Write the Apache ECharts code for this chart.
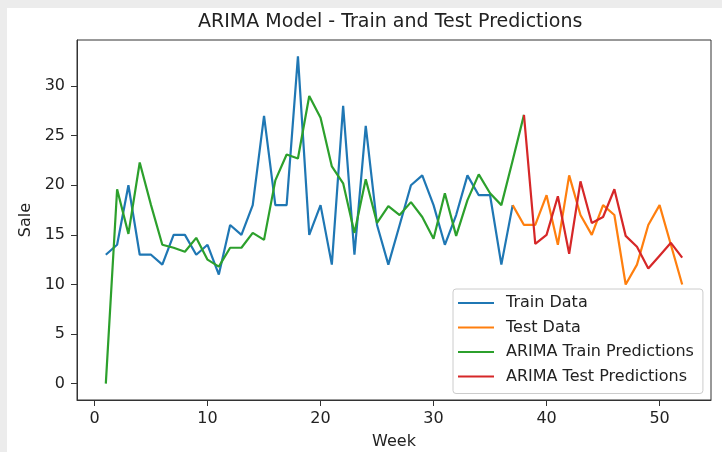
<!DOCTYPE html>
<html>
<head>
<meta charset="utf-8">
<script src="https://cdn.jsdelivr.net/npm/echarts@6/dist/echarts.min.js"></script>
<style>
html,body{margin:0;padding:0;background:#ececec;}
#paper{position:absolute;left:7px;top:8px;width:715px;height:444px;background:#ffffff;}
#c{position:absolute;left:0;top:0;width:722px;height:452px;}
</style>
</head>
<body>
<div id="paper"></div>
<div id="c"></div>
<script>
// ---- data ----
const chartTitle = 'ARIMA Model - Train and Test Predictions';
const xAxisName = 'Week';
const yAxisName = 'Sale';
const xTicks = [0, 10, 20, 30, 40, 50];
const yTicks = [0, 5, 10, 15, 20, 25, 30];

const trainStartWeek = 1;
const trainData = [13, 14, 20, 13, 13, 12, 15, 15, 13, 14, 11, 16, 15, 18, 27, 18, 18, 33, 15, 18,
                   12, 28, 13, 26, 16, 12, 16, 20, 21, 18, 14, 17, 21, 19, 19, 12, 18];

const testStartWeek = 37;
const testData = [18, 16, 16, 19, 14, 21, 17, 15, 18, 17, 10, 12, 16, 18, 14, 10];

const trainPredStartWeek = 1;
const trainPred = [0, 19.6, 15.1, 22.3, 18.0, 14.0, 13.7, 13.3, 14.7, 12.5, 11.8, 13.7, 13.7, 15.2, 14.5,
                   20.5, 23.1, 22.7, 29.0, 26.8, 21.9, 20.2, 15.2, 20.6, 16.2, 17.9, 17.0, 18.3, 16.8,
                   14.6, 19.2, 14.9, 18.5, 21.1, 19.2, 18.0, 22.5, 27.1];

const testPredStartWeek = 38;
const testPred = [27.1, 14.1, 15.0, 18.9, 13.1, 20.4, 16.2, 16.8, 19.6, 14.9, 13.8, 11.6, 12.9, 14.2, 12.7];

const seriesNames = ['Train Data', 'Test Data', 'ARIMA Train Predictions', 'ARIMA Test Predictions'];
const seriesColors = ['#1f77b4', '#ff7f0e', '#2ca02c', '#d62728'];

// ---- build ----
function pairs(start, vals) { return vals.map((v, i) => [start + i, v]); }
const seriesData = [
  pairs(trainStartWeek, trainData),
  pairs(testStartWeek, testData),
  pairs(trainPredStartWeek, trainPred),
  pairs(testPredStartWeek, testPred)
];

const FONT = 'DejaVu Sans';
const TXT = '#222222';
const AX = '#333333';

const chart = echarts.init(document.getElementById('c'), null, {renderer: 'canvas'});
chart.setOption({
  animation: false,
  backgroundColor: 'transparent',
  textStyle: {fontFamily: FONT},
  title: {
    text: chartTitle, left: 198, top: 13, padding: 0,
    textStyle: {fontFamily: FONT, fontSize: 19, fontWeight: 'normal', color: TXT}
  },
  grid: {left: 77, right: 11, top: 40, bottom: 52, outerBoundsMode: 'none', containLabel: false,
         show: true, borderColor: AX, borderWidth: 1, backgroundColor: '#ffffff'},
  xAxis: {
    type: 'value', min: -1.55, max: 54.55,
    name: xAxisName, nameLocation: 'middle', nameGap: 34,
    nameTextStyle: {fontFamily: FONT, fontSize: 16, color: TXT},
    axisLine: {show: true, onZero: false, lineStyle: {color: AX, width: 1}},
    axisTick: {show: true, length: 6, customValues: xTicks, lineStyle: {color: AX}},
    axisLabel: {customValues: xTicks, fontFamily: FONT, fontSize: 16, color: TXT, margin: 11},
    splitLine: {show: false}
  },
  yAxis: {
    type: 'value', min: -1.65, max: 34.65,
    name: yAxisName, nameLocation: 'middle', nameGap: 37, nameRotate: 90,
    nameTextStyle: {fontFamily: FONT, fontSize: 16, color: TXT},
    axisLine: {show: true, onZero: false, lineStyle: {color: AX, width: 1}},
    axisTick: {show: true, length: 6, customValues: yTicks, lineStyle: {color: AX}},
    axisLabel: {customValues: yTicks, fontFamily: FONT, fontSize: 16, color: TXT, margin: 12},
    splitLine: {show: false}
  },
  legend: {
    orient: 'vertical', left: 453, top: 289,
    padding: [5, 9, 8, 5],
    itemWidth: 36, itemHeight: 2, itemGap: 6.5, icon: 'rect',
    backgroundColor: 'rgba(255,255,255,0.85)', borderColor: '#cccccc', borderWidth: 1, borderRadius: 3,
    textStyle: {fontFamily: FONT, fontSize: 16, color: TXT, lineHeight: 18, padding: [0, 0, 0, 7]},
    data: seriesNames
  },
  series: seriesNames.map((n, i) => ({
    name: n, type: 'line', data: seriesData[i],
    symbol: 'none', showSymbol: false,
    lineStyle: {color: seriesColors[i], width: 2.2},
    itemStyle: {color: seriesColors[i]},
    z: 2 + i
  }))
});
</script>
</body>
</html>
